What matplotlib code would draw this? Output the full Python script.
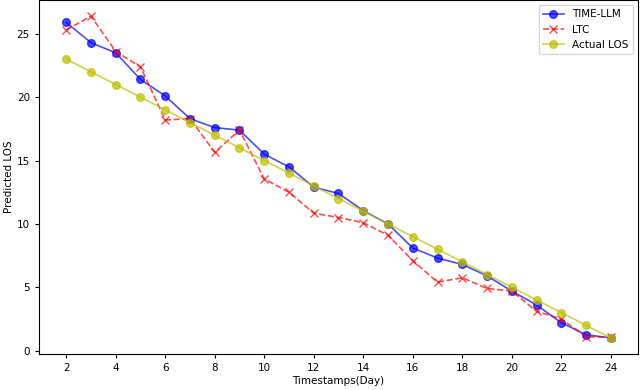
import matplotlib
matplotlib.use("Agg")
import matplotlib.pyplot as plt

days = list(range(2, 25))
time_llm = [25.9, 24.3, 23.5, 21.4, 20.1, 18.3, 17.6, 17.4, 15.5, 14.5, 12.9, 12.4,
            11.05, 10.0, 8.1, 7.3, 6.8, 5.9, 4.7, 3.6, 2.2, 1.25, 1.0]
ltc = [25.3, 26.4, 23.6, 22.4, 18.2, 18.3, 15.65, 17.4, 13.55, 12.5, 10.85, 10.5,
       10.1, 9.1, 7.1, 5.4, 5.75, 4.9, 4.7, 3.1, 2.5, 1.1, 1.05]
actual = [23, 22, 21, 20, 19, 18, 17, 16, 15, 14, 13, 12, 11, 10, 9, 8, 7, 6, 5, 4, 3, 2, 1]
xticks = list(range(2, 25, 2))

fig = plt.figure(figsize=(6.4, 3.9), dpi=100)
ax = fig.add_axes([39/640, 36/390, 599/640, 354/390])

ax.plot(days, time_llm, color='b', marker='o', linestyle='-', alpha=0.7,
        markersize=5.5, linewidth=1.2, label='TIME-LLM')
ax.plot(days, ltc, color='r', marker='x', linestyle='--', alpha=0.7,
        markersize=5.5, linewidth=1.2, label='LTC')
ax.plot(days, actual, color='y', marker='o', linestyle='-', alpha=0.7,
        markersize=5.5, linewidth=1.2, label='Actual LOS')

ax.set_xticks(xticks)
ax.set_yticks([0, 5, 10, 15, 20, 25])
ax.tick_params(labelsize=7.5, length=3)
ax.set_xlabel('Timestamps(Day)', fontsize=7.5, labelpad=2)
ax.set_ylabel('Predicted LOS', fontsize=7.5, labelpad=2)
ax.legend(loc='upper right', fontsize=7.5)

fig.savefig('out.png', dpi=100)
